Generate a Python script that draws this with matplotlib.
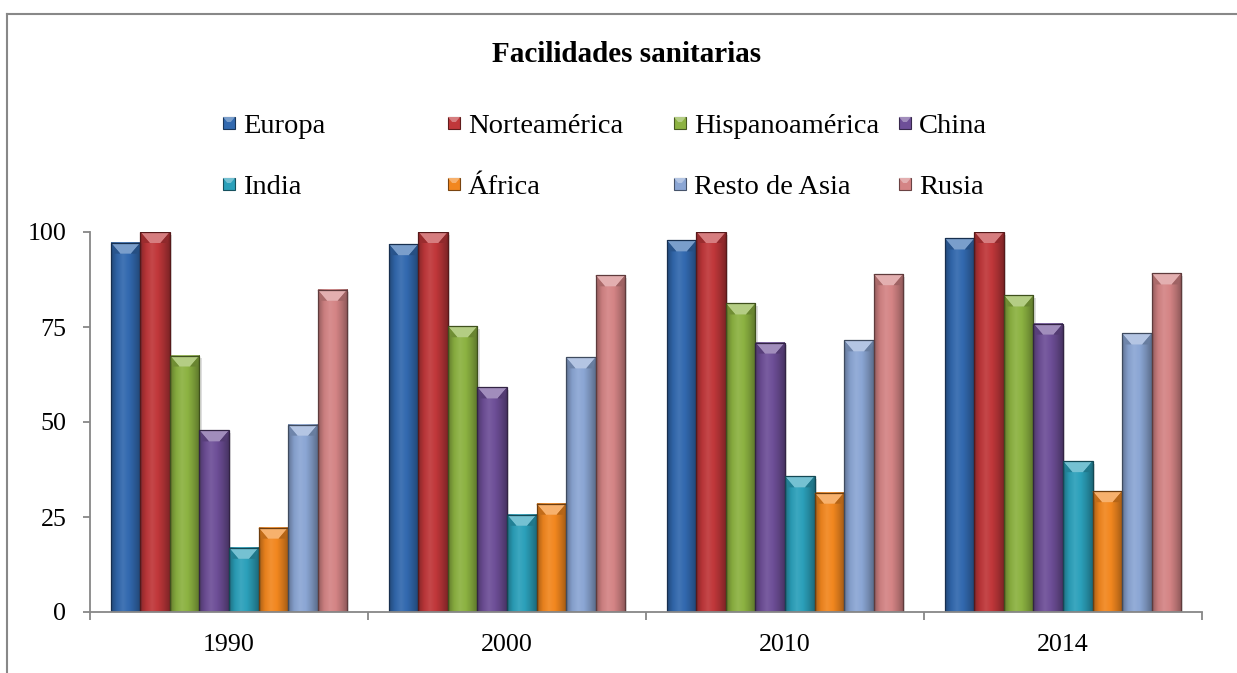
import matplotlib
matplotlib.use("Agg")
import matplotlib.pyplot as plt
import numpy as np
from matplotlib.colors import LinearSegmentedColormap, to_rgb
from matplotlib.patches import Rectangle, Polygon
from matplotlib.lines import Line2D

plt.rcParams['font.family'] = ['Liberation Serif', 'DejaVu Serif']

title = "Facilidades sanitarias"
years = ["1990", "2000", "2010", "2014"]
series = ["Europa", "Norteamérica", "Hispanoamérica", "China",
          "India", "África", "Resto de Asia", "Rusia"]
colors = ["#3269AF", "#C0373A", "#8CB241", "#6E4F98",
          "#2BA0BA", "#F2871F", "#8BA6D4", "#D48485"]

europa = [97.2, 96.8, 97.8, 98.3]
norteamerica = [100, 100, 100, 100]
hispanoamerica = [67.5, 75.2, 81.2, 83.3]
china = [47.8, 59.1, 70.9, 75.9]
india = [16.9, 25.6, 35.7, 39.7]
africa = [22.2, 28.5, 31.4, 31.8]
resto_asia = [49.3, 67.0, 71.5, 73.3]
rusia = [84.8, 88.6, 88.9, 89.1]
values = [europa, norteamerica, hispanoamerica, china, india, africa, resto_asia, rusia]

yticks = [0, 25, 50, 75, 100]

W, H = 1237, 673
fig = plt.figure(figsize=(W / 100, H / 100), dpi=100)
ax = fig.add_axes([90 / W, 1 - 612 / H, (1202 - 90) / W, (612 - 232) / H])

n = len(series)
group = 0.85
bw = group / n
x = np.arange(len(years))


def shade(c, f):
    r = np.array(to_rgb(c))
    if f < 1:
        return tuple(r * f)
    return tuple(r + (1 - r) * (f - 1))


px_per_unit = 3.8
bevel = 11 / px_per_unit
for i, (name, col, vals) in enumerate(zip(series, colors, values)):
    xs = x - group / 2 + i * bw
    for xl, v in zip(xs, vals):
        # soft shadow
        ax.bar(xl + bw * 0.07, v, width=bw, bottom=-0.7, align='edge',
               color='#000000', alpha=0.13, zorder=1, linewidth=0)
        cmap = LinearSegmentedColormap.from_list(
            "g", [shade(col, 0.70), shade(col, 0.95), shade(col, 1.08),
                  shade(col, 1.0), shade(col, 0.85), shade(col, 0.66)])
        grad = np.linspace(0, 1, 64).reshape(1, -1)
        ax.imshow(grad, extent=(xl, xl + bw, 0, v), aspect='auto', cmap=cmap,
                  zorder=2, interpolation='bilinear')
        ax.add_patch(Rectangle((xl, 0), bw, v, fill=False,
                               edgecolor=shade(col, 0.45), linewidth=0.9, zorder=4))
        # top bevel
        ax.add_patch(Polygon([(xl, v), (xl + bw, v), (xl + bw * 0.68, v - bevel),
                              (xl + bw * 0.32, v - bevel)], closed=True,
                             facecolor=shade(col, 1.35), edgecolor='none', zorder=3))
        ax.add_patch(Polygon([(xl, v), (xl + bw * 0.32, v - bevel), (xl + bw * 0.08, v - bevel)],
                             closed=True, facecolor=shade(col, 0.8), edgecolor='none', zorder=3))
        ax.add_patch(Polygon([(xl + bw, v), (xl + bw * 0.68, v - bevel), (xl + bw * 0.92, v - bevel)],
                             closed=True, facecolor=shade(col, 0.75), edgecolor='none', zorder=3))

ax.set_xlim(-0.5, len(years) - 0.5)
ax.set_ylim(0, 100)
ax.set_yticks(yticks)
ax.set_yticklabels([str(t) for t in yticks])
ax.set_xticks(x)
ax.set_xticklabels(years)
ax.set_xticks(np.arange(len(years) + 1) - 0.5, minor=True)

axis_col = '#878787'
for s in ['top', 'right']:
    ax.spines[s].set_visible(False)
for s in ['left', 'bottom']:
    ax.spines[s].set_color(axis_col)
    ax.spines[s].set_linewidth(1.3)
    ax.spines[s].set_zorder(6)
ax.tick_params(axis='y', length=5, width=1.3, color=axis_col, pad=12, labelsize=18.7)
ax.tick_params(axis='x', which='major', length=0, pad=16, labelsize=18.7)
ax.tick_params(axis='x', which='minor', length=6, width=1.3, color=axis_col)

fig.text(627 / W, 1 - 62 / H, title, ha='center', va='baseline',
         fontsize=21, fontweight='bold')

# legend (equal-width columns)
col_x = [223, 448, 674, 899]
row_y = [123, 184]
ms = 12
for i, (name, col) in enumerate(zip(series, colors)):
    cx = col_x[i % 4]
    cy = row_y[i // 4]
    fig.patches.append(Rectangle((cx / W, 1 - (cy + ms / 2) / H), ms / W, ms / H,
                                 transform=fig.transFigure, facecolor=col,
                                 edgecolor=shade(col, 0.5), linewidth=0.8))
    fig.patches.append(Polygon([(cx / W, 1 - (cy - ms / 2) / H), ((cx + ms) / W, 1 - (cy - ms / 2) / H),
                                ((cx + ms * 0.65) / W, 1 - (cy - 1) / H), ((cx + ms * 0.35) / W, 1 - (cy - 1) / H)],
                               closed=True, transform=fig.transFigure,
                               facecolor=shade(col, 1.35), edgecolor='none'))
    fig.text((cx + 20) / W, 1 - (cy + 10) / H, name, ha='left', va='baseline', fontsize=20.5)

# outer chart border
fig.lines.append(Line2D([7 / W, 1], [1 - 14 / H, 1 - 14 / H], transform=fig.transFigure,
                        color='#888888', linewidth=1.5))
fig.lines.append(Line2D([7 / W, 7 / W], [0, 1 - 14 / H], transform=fig.transFigure,
                        color='#888888', linewidth=1.5))

fig.savefig("out.png", dpi=100)
